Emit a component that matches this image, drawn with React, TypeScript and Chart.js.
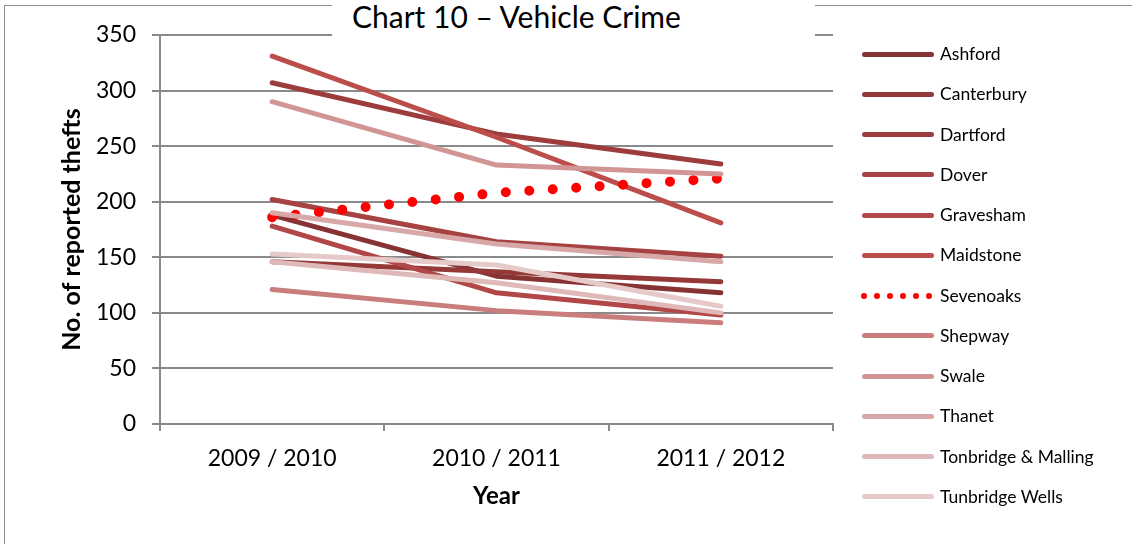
import React, { useEffect, useRef } from "react";
import { Chart, registerables } from "chart.js";

Chart.register(...registerables);

const categories = ["2009 / 2010", "2010 / 2011", "2011 / 2012"];
const seriesNames = [
  "Ashford",
  "Canterbury",
  "Dartford",
  "Dover",
  "Gravesham",
  "Maidstone",
  "Sevenoaks",
  "Shepway",
  "Swale",
  "Thanet",
  "Tonbridge & Malling",
  "Tunbridge Wells",
];
const ashford = [188, 133, 118];
const canterbury = [146, 137, 128];
const dartford = [307, 261, 234];
const dover = [202, 164, 151];
const gravesham = [178, 118, 98];
const maidstone = [331, 258, 181];
const sevenoaks = [186, 208, 221];
const shepway = [121, 102, 91];
const swale = [290, 233, 225];
const thanet = [190, 162, 146];
const tonbridge = [146, 127, 100];
const tunbridgeWells = [153, 143, 106];
const seriesValues = [
  ashford, canterbury, dartford, dover, gravesham, maidstone,
  sevenoaks, shepway, swale, thanet, tonbridge, tunbridgeWells,
];
const seriesColors = [
  "#873333", "#943838", "#9c3c3c", "#a64242", "#b14747", "#bb4d4b",
  "#ff0000", "#c97d7d", "#d29595", "#d8a7a7", "#dfb8b8", "#e6caca",
];
const yTicks = [0, 50, 100, 150, 200, 250, 300, 350];
const chartTitle = "Chart 10 \u2013 Vehicle Crime";
const xTitle = "Year";
const yTitle = "No. of reported thefts";

const FONT = "Lato, 'Liberation Sans', sans-serif";

export default function App() {
  const ref = useRef<HTMLCanvasElement | null>(null);

  useEffect(() => {
    if (!ref.current) return;
    const datasets = seriesNames.map((name, i) => {
      const dotted = name === "Sevenoaks";
      return {
        label: name,
        data: seriesValues[i],
        borderColor: seriesColors[i],
        backgroundColor: seriesColors[i],
        borderWidth: dotted ? 10 : 5,
        borderDash: dotted ? [0, 23.5] : [],
        borderCapStyle: "round" as const,
        borderJoinStyle: "round" as const,
        pointRadius: 0,
        pointHoverRadius: 0,
        tension: 0,
        fill: false,
        order: seriesNames.length - i,
      };
    });
    const chart = new Chart(ref.current, {
      type: "line",
      data: { labels: categories, datasets },
      options: {
        animation: false,
        responsive: false,
        events: [],
        layout: { padding: { left: 0, top: 35, right: 299, bottom: 0 } },
        plugins: { legend: { display: false }, tooltip: { enabled: false }, title: { display: false } },
        scales: {
          x: {
            type: "category",
            offset: true,
            grid: {
              offset: true,
              drawOnChartArea: false,
              drawTicks: true,
              tickLength: 7,
              color: "#8a8a8a",
              lineWidth: 2,
            },
            border: { display: true, color: "#8a8a8a", width: 2 },
            ticks: {
              color: "#000",
              font: { family: FONT, size: 23 },
              padding: 14,
              maxRotation: 0,
            },
            title: {
              display: true,
              text: xTitle,
              color: "#000",
              font: { family: FONT, size: 24, weight: "bold" },
              padding: { top: 33, bottom: 33 },
            },
            afterFit: (scale: any) => {
              scale.height = 120;
            },
          },
          y: {
            min: 0,
            max: 350,
            afterBuildTicks: (scale: any) => {
              scale.ticks = yTicks.map((v) => ({ value: v }));
            },
            grid: {
              color: "#8a8a8a",
              lineWidth: 2,
              tickLength: 8,
              drawTicks: true,
            },
            border: { display: true, color: "#8a8a8a", width: 2 },
            ticks: {
              color: "#000",
              font: { family: FONT, size: 23 },
              padding: 16,
            },
            title: {
              display: true,
              text: yTitle,
              color: "#000",
              font: { family: FONT, size: 25, weight: "bold" },
              padding: { top: 57, bottom: 57 },
            },
            afterFit: (scale: any) => {
              scale.width = 160;
            },
          },
        },
      },
    });
    return () => chart.destroy();
  }, []);

  const rowY = (i: number) => 54 + i * 40.27;

  return (
    <div
      style={{
        position: "fixed",
        left: 0,
        top: 0,
        width: 1132,
        height: 544,
        overflow: "hidden",
        background: "#fff",
        fontFamily: FONT,
      }}
    >
      <div
        style={{
          position: "absolute",
          left: 4,
          top: 5,
          width: 1200,
          height: 700,
          border: "1px solid #8c8c8c",
        }}
      />
      <canvas
        ref={ref}
        width={1132}
        height={544}
        style={{ position: "absolute", left: 0, top: 0, width: 1132, height: 544 }}
      />
      <div
        style={{
          position: "absolute",
          left: 332,
          top: 0,
          width: 483,
          height: 37,
          background: "#fff",
        }}
      >
        <div
          style={{
            position: "absolute",
            left: 20,
            top: -1,
            fontSize: 30,
            lineHeight: "34px",
            color: "#000",
            whiteSpace: "nowrap",
          }}
        >
          {chartTitle}
        </div>
      </div>
      {seriesNames.map((name, i) => {
        const y = rowY(i);
        const dotted = name === "Sevenoaks";
        return (
          <React.Fragment key={name}>
            {dotted ? (
              [0, 1, 2, 3, 4, 5].map((k) => (
                <div
                  key={k}
                  style={{
                    position: "absolute",
                    left: 864 + k * 13 - 3,
                    top: y - 3,
                    width: 6,
                    height: 6,
                    borderRadius: 3,
                    background: seriesColors[i],
                  }}
                />
              ))
            ) : (
              <div
                style={{
                  position: "absolute",
                  left: 862,
                  top: y - 2.5,
                  width: 72,
                  height: 5,
                  borderRadius: 2.5,
                  background: seriesColors[i],
                }}
              />
            )}
            <div
              style={{
                position: "absolute",
                left: 940,
                top: y - 11,
                fontSize: 17.5,
                lineHeight: "22px",
                color: "#000",
                whiteSpace: "nowrap",
              }}
            >
              {name}
            </div>
          </React.Fragment>
        );
      })}
    </div>
  );
}
